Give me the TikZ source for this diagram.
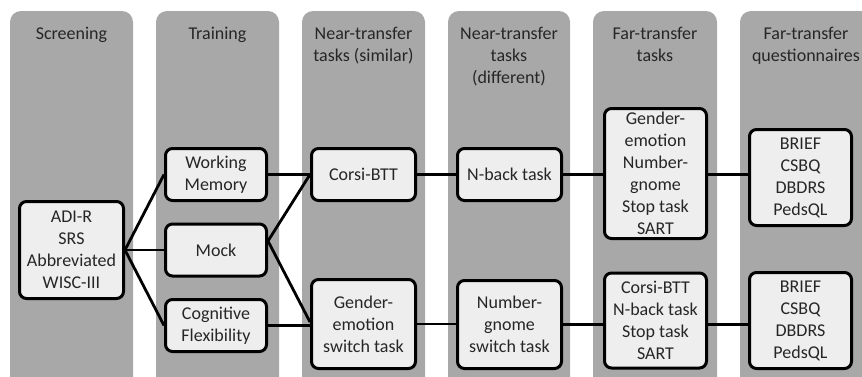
\documentclass[tikz,border=0pt]{standalone}
\usepackage{fontspec}
\setmainfont{Carlito}
\definecolor{colgray}{RGB}{168,168,168}
\definecolor{boxfill}{RGB}{238,238,238}
\begin{document}
\begin{tikzpicture}[x=1pt,y=-1pt,
  column/.style={fill=colgray, rounded corners=11pt},
  heading/.style={anchor=north, align=center, inner sep=0pt, font=\fontsize{18}{22}\selectfont, text=black!85},
  box/.style={draw=black, line width=3pt, fill=boxfill, rounded corners=7pt, align=center, inner sep=0pt, font=\fontsize{18}{22}\selectfont, text=black!85},
  link/.style={line width=2.8pt}]
\clip (0,0) rectangle (862,376);
\fill[white] (0,0) rectangle (862,376);
% columns
\fill[column] (10,11) rectangle (133,420);
\fill[column] (156,11) rectangle (279,420);
\fill[column] (302,11) rectangle (425,420);
\fill[column] (448,11) rectangle (570,420);
\fill[column] (593,11) rectangle (717,420);
\fill[column] (740,11) rectangle (872,420);
% headings
\node[heading] (h1) at (71.5,23.6) {\strut Screening};
\node[heading] (h2) at (217.5,23.6) {\strut Training};
\node[heading] (h3) at (363.5,23.6) {\strut Near-transfer\\tasks (similar)};
\node[heading] (h4) at (509,23.6) {\strut Near-transfer\\tasks\\(different)};
\node[heading] (h5) at (655,23.6) {\strut Far-transfer\\tasks};
\node[heading] (h6) at (806,23.6) {\strut Far-transfer\\questionnaires};
% boxes
\node[box, minimum width=104pt, minimum height=97pt] (adi) at (71.5,250) {ADI-R\\SRS\\Abbreviated\\WISC-III};
\node[box, minimum width=101pt, minimum height=52pt] (wm) at (216,174.5) {Working\\Memory};
\node[box, minimum width=101pt, minimum height=52pt] (mock) at (216,250) {Mock};
\node[box, minimum width=101pt, minimum height=52pt] (cf) at (216,325.5) {Cognitive\\Flexibility};
\node[box, minimum width=104pt, minimum height=52pt] (corsi) at (363.5,174.5) {Corsi-BTT};
\node[box, minimum width=104pt, minimum height=89pt] (gender) at (363.5,324) {Gender-\\emotion\\switch task};
\node[box, minimum width=104pt, minimum height=52pt] (nback) at (509.5,174.5) {N-back task};
\node[box, minimum width=104pt, minimum height=88pt] (number) at (509.5,324.5) {Number-\\gnome\\switch task};
\node[box, minimum width=102pt, minimum height=130pt] (far1) at (655.5,173.5) {Gender-\\emotion\\Number-\\gnome\\Stop task\\SART};
\node[box, minimum width=102pt, minimum height=95pt] (far2) at (655.5,320.5) {Corsi-BTT\\N-back task\\Stop task\\SART};
\node[box, minimum width=102pt, minimum height=96pt] (q1) at (800.5,177.5) {BRIEF\\CSBQ\\DBDRS\\PedsQL};
\node[box, minimum width=102pt, minimum height=96pt] (q2) at (800.5,320.5) {BRIEF\\CSBQ\\DBDRS\\PedsQL};
% connectors
\draw[link] (adi.east) -- (wm.west);
\draw[link] (adi.east) -- (mock.west);
\draw[link] (adi.east) -- (cf.west);
\draw[link] (wm.east) -- (wm.east -| corsi.west);
\draw[link] ([yshift=9pt]mock.east) -- (corsi.west);
\draw[link] ([yshift=9pt]mock.east) -- ([yshift=2pt]gender.west);
\draw[link] (cf.east) -- (cf.east -| gender.west);
\draw[link] (corsi.east) -- (corsi.east -| nback.west);
\draw[link] (nback.east) -- (nback.east -| far1.west);
\draw[link] (far1.east |- nback.east) -- (nback.east -| q1.west);
\draw[link] (gender.east) -- (gender.east -| number.west);
\draw[link] (number.east) -- (number.east -| far2.west);
\draw[link] (far2.east |- number.east) -- (number.east -| q2.west);
\end{tikzpicture}
\end{document}
